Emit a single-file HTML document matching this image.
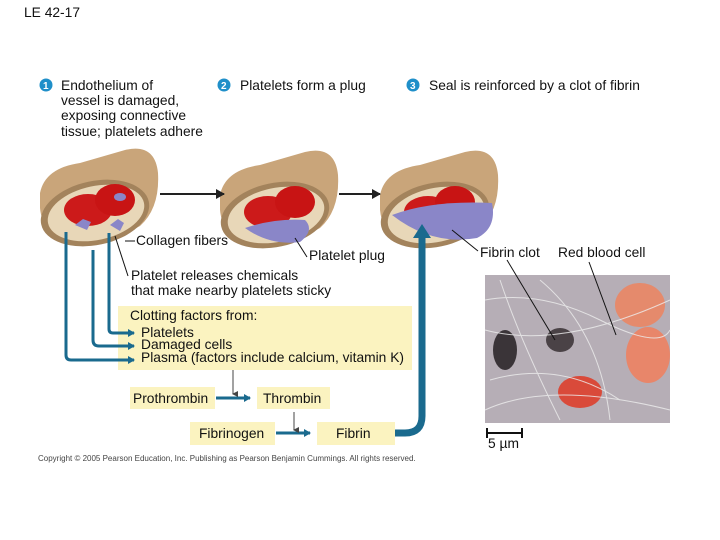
<!DOCTYPE html>
<html><head><meta charset="utf-8"><style>
html,body{margin:0;padding:0;background:#fff}
svg{display:block}
text{font-family:"Liberation Sans",sans-serif;font-size:13.8px;fill:#111}
</style></head><body>
<svg width="720" height="540" viewBox="0 0 720 540" xmlns="http://www.w3.org/2000/svg">
<defs>
<marker id="ab" markerWidth="8" markerHeight="8" refX="6" refY="4" orient="auto" markerUnits="userSpaceOnUse"><path d="M0,0 L7,4 L0,8 z" fill="#1a6a8e"/></marker>
<marker id="ak" markerWidth="10" markerHeight="10" refX="8" refY="5" orient="auto" markerUnits="userSpaceOnUse"><path d="M0,0 L9,5 L0,10 z" fill="#222"/></marker>
<marker id="as" markerWidth="6" markerHeight="6" refX="3" refY="5" orient="auto" markerUnits="userSpaceOnUse"><path d="M0,0 L3,6 L6,0 z" fill="#444"/></marker>
<g id="ves">
<path d="M0,45 Q5,20 40,15 L85,2 Q115,-5 118,25 Q120,60 100,78 Q70,95 30,92 Q2,85 0,60 Z" fill="#c9a57a"/>
<ellipse cx="55" cy="65" rx="55" ry="32" fill="#a3835c" transform="rotate(-12 55 65)"/>
<ellipse cx="56" cy="65" rx="49" ry="27" fill="#e8d7b8" transform="rotate(-12 56 65)"/>
<ellipse cx="48" cy="62" rx="24" ry="16" fill="#cc1a1a"/>
<ellipse cx="75" cy="52" rx="20" ry="16" fill="#c81414"/>
</g>
</defs>
<text x="24" y="17">LE 42-17</text>
<circle cx="46" cy="85" r="6.5" fill="#1f8fc9"/><text x="43" y="89" style="font-size:10px;fill:#fff;font-weight:bold">1</text>
<text x="61" y="90">Endothelium of</text>
<text x="61" y="105">vessel is damaged,</text>
<text x="61" y="120">exposing connective</text>
<text x="61" y="136">tissue; platelets adhere</text>
<circle cx="224" cy="85" r="6.5" fill="#1f8fc9"/><text x="221" y="89" style="font-size:10px;fill:#fff;font-weight:bold">2</text>
<text x="240" y="90">Platelets form a plug</text>
<circle cx="413" cy="85" r="6.5" fill="#1f8fc9"/><text x="410" y="89" style="font-size:10px;fill:#fff;font-weight:bold">3</text>
<text x="429" y="90">Seal is reinforced by a clot of fibrin</text>

<use href="#ves" x="40" y="148"/>
<path d="M110,225 l8,-6 l6,4 l-4,8 z" fill="#8a86c8"/>
<path d="M75,225 l8,-6 l8,3 l-4,8 z" fill="#8a86c8"/>
<ellipse cx="120" cy="197" rx="6" ry="4" fill="#8a86c8"/>
<use href="#ves" x="220" y="150"/>
<path d="M245,228 q30,-10 60,-8 q10,10 -5,22 q-30,4 -55,-14z" fill="#8a86c8"/>
<use href="#ves" x="380" y="150"/>
<path d="M392,215 q40,-15 100,-12 q5,25 -15,35 q-45,8 -85,-23z" fill="#8a86c8"/>
<line x1="160" y1="194" x2="224" y2="194" stroke="#222" stroke-width="2" marker-end="url(#ak)"/>
<line x1="339" y1="194" x2="380" y2="194" stroke="#222" stroke-width="2" marker-end="url(#ak)"/>

<rect x="118" y="306" width="294" height="64" fill="#fbf3c0"/>
<rect x="130" y="387" width="85" height="22" fill="#fbf3c0"/>
<rect x="257" y="387" width="73" height="22" fill="#fbf3c0"/>
<rect x="190" y="422" width="85" height="23" fill="#fbf3c0"/>
<rect x="317" y="422" width="78" height="23" fill="#fbf3c0"/>

<g fill="none" stroke="#1a6a8e" stroke-width="3">
<path d="M66,232 V355 Q66,360 71,360 H134" marker-end="url(#ab)"/>
<path d="M93,250 V340 Q93,346 99,346 H134" marker-end="url(#ab)"/>
<path d="M109,233 V329 Q109,333 113,333 H134" marker-end="url(#ab)"/>
<path d="M216,398 H250" marker-end="url(#ab)"/>
<path d="M276,433 H310" marker-end="url(#ab)"/>
</g>
<path d="M395,433 H405 Q422,433 422,416 V238" fill="none" stroke="#1a6a8e" stroke-width="7"/>
<path d="M413,238 L422,224 L431,238z" fill="#1a6a8e"/>
<line x1="233" y1="370" x2="233" y2="394" stroke="#444" stroke-width="1" marker-end="url(#as)"/>
<line x1="294" y1="412" x2="294" y2="430" stroke="#444" stroke-width="1" marker-end="url(#as)"/>

<text x="141" y="337">Platelets</text>
<text x="141" y="349">Damaged cells</text>
<text x="141" y="362">Plasma (factors include calcium, vitamin K)</text>
<text x="130" y="320">Clotting factors from:</text>
<text x="133" y="403">Prothrombin</text>
<text x="263" y="403">Thrombin</text>
<text x="199" y="438">Fibrinogen</text>
<text x="336" y="438">Fibrin</text>
<text x="38" y="461" style="font-size:8px;fill:#444">Copyright © 2005 Pearson Education, Inc. Publishing as Pearson Benjamin Cummings. All rights reserved.</text>

<line x1="125" y1="241" x2="135" y2="241" stroke="#111"/>
<text x="136" y="245">Collagen fibers</text>
<line x1="115" y1="236" x2="128" y2="276" stroke="#111"/>
<text x="131" y="280">Platelet releases chemicals</text>
<text x="131" y="295">that make nearby platelets sticky</text>
<line x1="295" y1="238" x2="307" y2="257" stroke="#111"/>
<text x="309" y="260">Platelet plug</text>
<line x1="452" y1="230" x2="478" y2="251" stroke="#111"/>
<text x="480" y="257">Fibrin clot</text>
<text x="558" y="257">Red blood cell</text>

<rect x="485" y="275" width="185" height="148" fill="#9a8f96"/>
<rect x="485" y="275" width="185" height="148" fill="#c9c3cc" opacity="0.6"/>
<ellipse cx="505" cy="350" rx="12" ry="20" fill="#3a3438"/>
<ellipse cx="560" cy="340" rx="14" ry="12" fill="#4a4246"/>
<ellipse cx="640" cy="305" rx="25" ry="22" fill="#e58a6c"/>
<ellipse cx="648" cy="355" rx="22" ry="28" fill="#e8866a"/>
<ellipse cx="580" cy="392" rx="22" ry="16" fill="#d94a3a"/>
<g stroke="#eee" stroke-width="1" fill="none" opacity="0.8">
<path d="M485,300 Q540,290 600,320 T670,330"/><path d="M490,380 Q560,360 620,400"/><path d="M500,280 Q520,340 560,420"/><path d="M540,280 Q600,330 610,420"/><path d="M485,330 Q560,350 670,300"/><path d="M485,410 Q550,380 670,410"/>
</g>
<line x1="507" y1="260" x2="555" y2="340" stroke="#111"/>
<line x1="589" y1="262" x2="616" y2="335" stroke="#111"/>
<line x1="487" y1="433" x2="522" y2="433" stroke="#111" stroke-width="2"/>
<line x1="487" y1="428" x2="487" y2="438" stroke="#111" stroke-width="2"/>
<line x1="522" y1="428" x2="522" y2="438" stroke="#111" stroke-width="2"/>
<text x="488" y="448">5 µm</text>
</svg>
</body></html>
